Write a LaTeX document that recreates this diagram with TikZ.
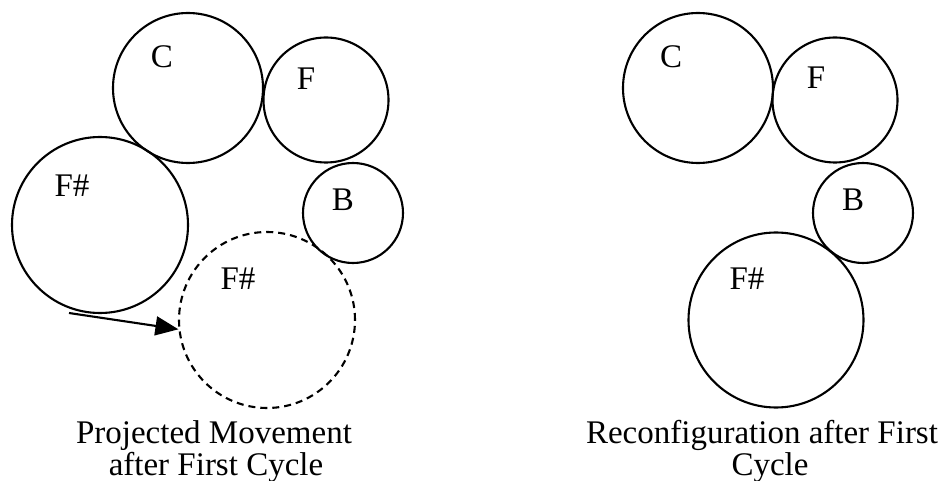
\documentclass[tikz,border=0pt]{standalone}
\usepackage{fontspec}
\setmainfont{Liberation Serif}
\usetikzlibrary{arrows.meta}
\begin{document}
\begin{tikzpicture}[x=1pt,y=-1pt,
  ring/.style={draw, circle, line width=2.1pt, inner sep=0pt},
  dashring/.style={ring, dash pattern=on 7pt off 5pt},
  lbl/.style={anchor=base, inner sep=0pt, font=\fontsize{33}{33}\selectfont},
  captext/.style={anchor=base, inner sep=0pt, font=\fontsize{33}{32}\selectfont}]
\useasboundingbox (0,0) rectangle (943,481);
% left panel
\node[ring, minimum size=150pt] (lc) at (188,88) {};
\node[ring, minimum size=125pt] (lf) at (326,100) {};
\node[ring, minimum size=176pt] (lfs) at (100,225) {};
\node[ring, minimum size=100pt] (lb) at (353,213) {};
\node[dashring, minimum size=176pt] (lfsd) at (267,320) {};
\node[lbl] (tlc) at (162,68) {C};
\node[lbl] (tlf) at (306,90) {F};
\node[lbl] (tlfs) at (72,197) {F\#};
\node[lbl] (tlb) at (343,211) {B};
\node[lbl] (tlfsd) at (238,290) {F\#};
\coordinate (arrstart) at (69,313);
\draw[line width=2.1pt, -{Triangle[length=23pt,width=19pt]}] (arrstart) -- (lfsd.186);
\node[captext] (capl1) at (214,443) {Projected Movement};
\node[captext] (capl2) at (216,475) {after First Cycle};
% right panel
\node[ring, minimum size=150pt] (rc) at (698,88) {};
\node[ring, minimum size=125pt] (rf) at (835,100) {};
\node[ring, minimum size=100pt] (rb) at (863,213) {};
\node[ring, minimum size=175pt] (rfs) at (776,320) {};
\node[lbl] (trc) at (671,68) {C};
\node[lbl] (trf) at (816,89) {F};
\node[lbl] (trb) at (853,211) {B};
\node[lbl] (trfs) at (747,290) {F\#};
\node[captext] (capr1) at (762,443) {Reconfiguration after First};
\node[captext] (capr2) at (770,475) {Cycle};
\end{tikzpicture}
\end{document}
